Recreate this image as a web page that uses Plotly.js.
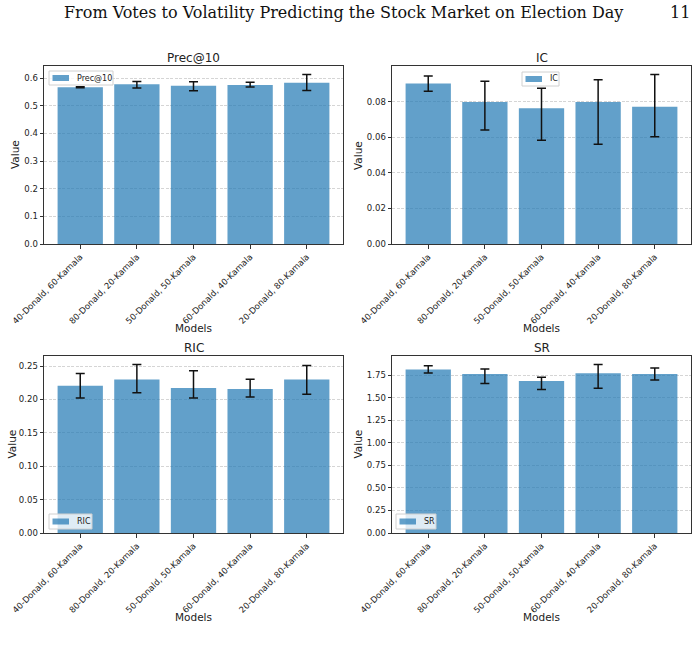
<!DOCTYPE html>
<html>
<head>
<meta charset="utf-8">
<script src="https://cdn.plot.ly/plotly-3.0.1.min.js"></script>
<style>
  html, body { margin: 0; padding: 0; background: #fff; }
  #myDiv { width: 699px; height: 656px; }
</style>
</head>
<body>
<div id="myDiv"></div>
<script>
var models = ['40-Donald, 60-Kamala', '80-Donald, 20-Kamala', '50-Donald, 50-Kamala',
              '60-Donald, 40-Kamala', '20-Donald, 80-Kamala'];

// bar heights and error bar extents (above / below the bar top)
var precValues = [0.567, 0.578, 0.572, 0.575, 0.583];
var precUp     = [0.002, 0.010, 0.015, 0.010, 0.030];
var precDown   = [0.002, 0.014, 0.018, 0.007, 0.028];

var icValues = [0.0901, 0.0798, 0.0763, 0.0798, 0.0771];
var icUp     = [0.0043, 0.0116, 0.0111, 0.0125, 0.0181];
var icDown   = [0.0043, 0.0158, 0.0180, 0.0238, 0.0169];

var ricValues = [0.2206, 0.2297, 0.2171, 0.2156, 0.2297];
var ricUp     = [0.0184, 0.0227, 0.0258, 0.0147, 0.0212];
var ricDown   = [0.0184, 0.0197, 0.0151, 0.0121, 0.0221];

var srValues = [1.816, 1.765, 1.688, 1.772, 1.765];
var srUp     = [0.039, 0.055, 0.040, 0.099, 0.067];
var srDown   = [0.039, 0.107, 0.096, 0.165, 0.066];

var barColor = 'rgba(31,119,180,0.7)';
var W = 699, H = 656;

// pixel boxes of the four panels: [left, right, top, bottom]
var boxes = [
  [44, 343, 66, 244],
  [392, 691, 66, 244],
  [44, 343, 356, 533],
  [392, 691, 356, 533]
];

function xdom(b) { return [b[0] / W, b[1] / W]; }
function ydom(b) { return [1 - b[3] / H, 1 - b[2] / H]; }
function px(x) { return x / W; }
function py(y) { return 1 - y / H; }

function makeBar(name, vals, up, down, i) {
  var n = i === 0 ? '' : String(i + 1);
  return {
    type: 'bar',
    x: models,
    y: vals,
    name: name,
    width: 0.8,
    marker: { color: barColor, line: { width: 0 } },
    error_y: { type: 'data', symmetric: false, array: up, arrayminus: down,
               visible: true, color: '#111', thickness: 1.5, width: 4.5 },
    xaxis: 'x' + n,
    yaxis: 'y' + n,
    showlegend: false
  };
}

var data = [
  makeBar('Prec@10', precValues, precUp, precDown, 0),
  makeBar('IC', icValues, icUp, icDown, 1),
  makeBar('RIC', ricValues, ricUp, ricDown, 2),
  makeBar('SR', srValues, srUp, srDown, 3)
];

function topOf(vals, up) {
  var m = 0;
  for (var k = 0; k < vals.length; k++) m = Math.max(m, vals[k] + up[k]);
  return m * 1.05;
}

var yTops = [topOf(precValues, precUp), topOf(icValues, icUp),
             topOf(ricValues, ricUp), topOf(srValues, srUp)];
var yDticks = [0.1, 0.02, 0.05, 0.25];
var yFormats = ['.1f', '.2f', '.2f', '.2f'];
var titles = ['Prec@10', 'IC', 'RIC', 'SR'];

var tickFont = { family: 'DejaVu Sans', size: 8.5, color: '#222' };
var labelFont = { family: 'DejaVu Sans', size: 10.5, color: '#222' };

var layout = {
  width: W,
  height: H,
  margin: { l: 0, r: 0, t: 0, b: 0 },
  paper_bgcolor: '#fff',
  plot_bgcolor: '#fff',
  showlegend: false,
  shapes: [],
  annotations: [
    {
      text: 'From Votes to Volatility Predicting the Stock Market on Election Day',
      xref: 'paper', yref: 'paper', x: px(343), y: py(13),
      xanchor: 'center', yanchor: 'middle', showarrow: false,
      font: { family: 'DejaVu Serif', size: 16, color: '#111' }
    },
    {
      text: '11',
      xref: 'paper', yref: 'paper', x: px(680), y: py(13),
      xanchor: 'center', yanchor: 'middle', showarrow: false,
      font: { family: 'DejaVu Serif', size: 16, color: '#111' }
    }
  ]
};

// legend boxes: [left, top, right, bottom]
var legendBoxes = [
  [49, 71, 113, 85],
  [522, 72, 559, 86],
  [49, 514, 92, 529],
  [396, 514, 436, 529]
];
var yLabelOffset = [29, 34, 33, 35];

for (var i = 0; i < 4; i++) {
  var n = i === 0 ? '' : String(i + 1);
  var b = boxes[i];
  layout['xaxis' + n] = {
    domain: xdom(b),
    anchor: 'y' + n,
    type: 'category',
    range: [-0.64, 4.64],
    tickangle: -45,
    tickfont: tickFont,
    ticks: 'outside', ticklen: 3.5, tickcolor: '#333',
    showline: true, linecolor: '#333', linewidth: 1, mirror: true,
    showgrid: false, zeroline: false, fixedrange: true
  };
  layout['yaxis' + n] = {
    domain: ydom(b),
    anchor: 'x' + n,
    range: [0, yTops[i]],
    dtick: yDticks[i],
    tick0: 0,
    tickformat: yFormats[i],
    tickfont: tickFont,
    ticks: 'outside', ticklen: 3.5, tickcolor: '#333',
    showline: true, linecolor: '#333', linewidth: 1, mirror: true,
    showgrid: true, gridcolor: 'rgba(190,190,190,0.8)', griddash: '3px,1.5px', gridwidth: 0.8,
    zeroline: false, fixedrange: true
  };

  // legend (box, colour patch, label)
  var lb = legendBoxes[i];
  var cy = (lb[1] + lb[3]) / 2;
  layout.shapes.push({
    type: 'rect', xref: 'paper', yref: 'paper',
    x0: px(lb[0]), x1: px(lb[2]), y0: py(lb[3]), y1: py(lb[1]),
    fillcolor: 'rgba(255,255,255,0.8)', line: { color: '#d0d0d0', width: 1 }
  });
  layout.shapes.push({
    type: 'rect', xref: 'paper', yref: 'paper',
    x0: px(lb[0] + 3.5), x1: px(lb[0] + 20), y0: py(cy + 3), y1: py(cy - 3),
    fillcolor: barColor, line: { width: 0 }
  });
  layout.annotations.push({
    text: titles[i],
    xref: 'paper', yref: 'paper', x: px(lb[0] + 26), y: py(cy),
    xanchor: 'left', yanchor: 'middle', showarrow: false,
    font: { family: 'DejaVu Sans', size: 8, color: '#222' }
  });

  // subplot title
  layout.annotations.push({
    text: titles[i],
    xref: 'paper', yref: 'paper',
    x: px((b[0] + b[1]) / 2), y: py(b[2] - 8),
    xanchor: 'center', yanchor: 'middle', showarrow: false,
    font: { family: 'DejaVu Sans', size: 12, color: '#222' }
  });
  // x axis label
  layout.annotations.push({
    text: 'Models',
    xref: 'paper', yref: 'paper',
    x: px((b[0] + b[1]) / 2), y: py(b[3] + 84),
    xanchor: 'center', yanchor: 'middle', showarrow: false,
    font: labelFont
  });
  // y axis label
  layout.annotations.push({
    text: 'Value',
    xref: 'paper', yref: 'paper',
    x: px(b[0] - yLabelOffset[i]), y: py((b[2] + b[3]) / 2),
    xanchor: 'center', yanchor: 'middle', showarrow: false, textangle: -90,
    font: labelFont
  });
}

Plotly.newPlot('myDiv', data, layout, { staticPlot: true });
</script>
</body>
</html>
